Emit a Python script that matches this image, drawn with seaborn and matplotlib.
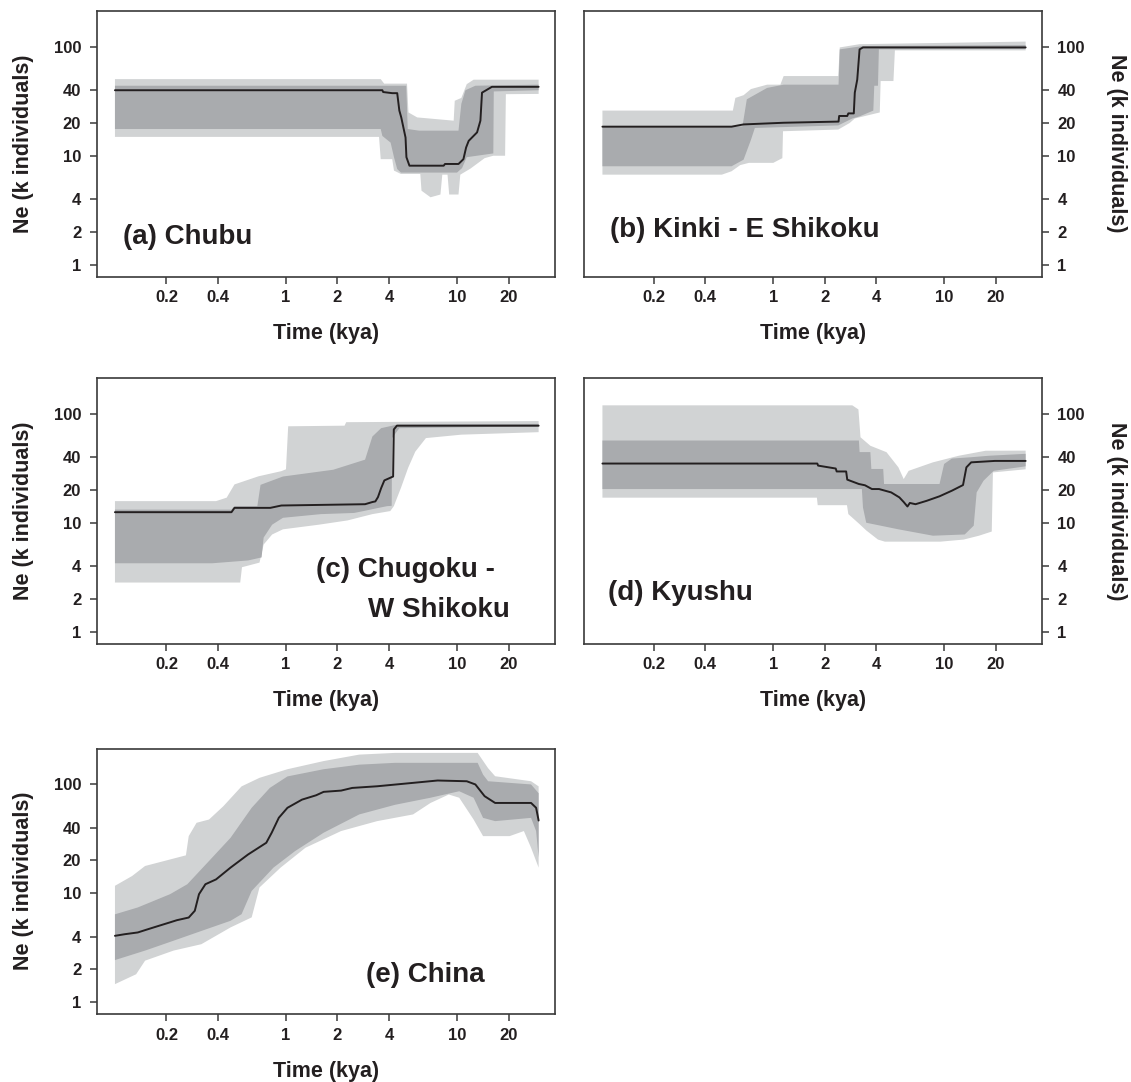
import matplotlib
matplotlib.use("Agg")
import pandas as pd
import matplotlib.pyplot as plt
from matplotlib.ticker import FixedLocator, FixedFormatter, NullLocator
import seaborn as sns

# Bayesian skyline plots: (time kya, Ne in thousands)
# each panel: median line, 50% band (dark), 95% band (light)

A_MED = [(0.1, 40), (3.66, 40), (3.7, 38.5), (4.18, 37.6), (4.47, 37.6), (4.6, 26), (4.72, 22.5),
         (5.0, 14.7), (5.06, 9.7), (5.27, 8.1), (8.36, 8.1), (8.5, 8.4), (10.2, 8.4), (10.9, 9.3),
         (11.3, 11.9), (11.7, 13.7), (13.1, 16.4), (13.7, 21), (14.0, 38), (16.0, 43), (30, 43)]
A_HI95 = [(0.1, 50.6), (3.58, 50.6), (3.75, 46), (5.1, 46), (5.2, 25), (5.85, 22.5), (9.56, 21),
          (9.7, 32), (10.6, 34), (11.4, 45.5), (12.5, 50), (30, 50)]
A_HI50 = [(0.1, 44), (5.05, 44), (5.15, 17.6), (6.0, 17), (10.2, 17), (10.6, 30), (11.2, 40),
          (12.8, 44), (30, 45)]
A_LO50 = [(0.1, 17.6), (3.58, 17.6), (3.66, 15.2), (4.09, 13.2), (4.28, 9.7), (4.47, 7.55),
          (4.7, 7.0), (10.0, 7.0), (10.7, 7.7), (11.4, 9.7), (16.3, 10.5), (16.4, 39), (30, 40)]
A_LO95 = [(0.1, 14.9), (3.5, 14.9), (3.58, 9.3), (4.18, 9.3), (4.28, 7.3), (4.7, 6.8), (6.1, 6.8),
          (6.2, 4.77), (7.0, 4.15), (8.0, 4.4), (8.2, 6.7), (8.8, 6.7), (9.0, 4.4), (10.2, 4.4),
          (10.45, 6.7), (11.96, 7.6), (14.5, 9.5), (16.3, 10), (19.1, 10), (19.3, 36.8), (30, 37)]

B_MED = [(0.1, 18.5), (0.57, 18.5), (0.67, 19.4), (1.15, 20.1), (2.41, 20.6), (2.43, 23.2),
         (2.71, 23.2), (2.75, 24.5), (2.96, 24.5), (3.0, 38), (3.1, 50), (3.2, 95), (3.35, 99), (30, 99)]
B_HI95 = [(0.1, 26), (0.58, 26), (0.6, 34), (0.67, 36), (0.74, 41), (0.92, 45), (1.1, 45), (1.15, 54),
          (2.4, 54), (2.45, 99), (3.2, 106), (30, 112)]
B_HI50 = [(0.1, 18.6), (0.66, 18.6), (0.7, 33), (0.92, 42), (1.15, 45), (2.41, 45), (2.45, 95),
          (3.35, 102), (30, 104)]
B_LO50 = [(0.1, 8), (0.57, 8), (0.67, 9.2), (0.74, 14), (0.78, 18), (2.4, 19), (2.9, 22), (3.2, 23),
          (3.85, 26), (3.9, 44), (4.1, 44), (4.15, 95), (30, 96)]
B_LO95 = [(0.1, 6.7), (0.5, 6.7), (0.57, 7.2), (0.64, 8.2), (0.72, 8.6), (1.0, 8.6), (1.1, 9.3),
          (1.13, 9.5), (1.14, 16.8), (2.4, 17.4), (2.8, 20), (3.0, 22), (4.2, 25), (4.25, 48.6),
          (5.05, 48.6), (5.15, 93), (30, 93)]

C_MED = [(0.1, 12.5), (0.48, 12.5), (0.5, 13.7), (0.81, 13.7), (0.94, 14.4), (2.9, 14.8), (3.2, 15.5),
         (3.33, 15.7), (3.45, 17.2), (3.6, 20.8), (3.76, 24.5), (4.23, 26.6), (4.27, 72), (4.45, 78),
         (30, 78)]
C_HI95 = [(0.1, 15.8), (0.39, 15.8), (0.45, 17), (0.5, 22.5), (0.69, 26.7), (0.94, 29.8), (1.0, 31),
          (1.03, 77), (2.2, 78), (2.25, 84), (30, 86)]
C_HI50 = [(0.1, 13.2), (0.48, 13.2), (0.5, 14.2), (0.68, 14.2), (0.71, 22.3), (0.96, 26.6),
          (1.89, 30.7), (2.9, 38), (3.2, 62), (3.6, 74), (4.5, 80), (30, 81)]
C_LO50 = [(0.1, 4.24), (0.37, 4.24), (0.6, 4.5), (0.72, 4.8), (0.74, 7.3), (0.83, 9.6), (0.96, 11.1),
          (1.6, 12), (2.5, 12.3), (2.84, 12.8), (3.4, 13.6), (3.9, 14.2), (4.15, 14.3), (4.17, 60),
          (4.6, 74), (30, 77)]
C_LO95 = [(0.1, 2.82), (0.54, 2.82), (0.553, 3.9), (0.70, 4.3), (0.74, 6.3), (0.83, 7.8), (0.96, 8.7),
          (1.56, 9.6), (2.29, 10.5), (3.2, 12), (4.07, 12.8), (4.27, 14.2), (4.7, 20.9), (5.18, 32),
          (5.7, 45), (6.58, 60), (10.6, 64.5), (30, 68)]

D_MED = [(0.1, 35), (1.81, 35), (1.83, 33.5), (2.32, 31.5), (2.35, 29.6), (2.67, 29.6), (2.71, 24.9),
         (3.17, 22.7), (3.44, 22.1), (3.78, 20.4), (4.16, 20.4), (4.9, 19), (5.47, 17.1), (5.8, 15.5),
         (6.1, 14.1), (6.3, 15.2), (6.8, 14.8), (7.9, 15.9), (9.4, 17.5), (11.1, 19.7), (12.9, 22.2),
         (13.5, 32.3), (14.4, 35.9), (19.8, 37), (30, 37)]
D_HI95 = [(0.1, 120), (2.9, 120), (3.15, 110), (3.24, 61), (3.7, 51), (4.6, 44.5), (5.4, 32.3),
          (5.8, 25.2), (6.2, 30), (8.6, 35.9), (12.2, 41.3), (17.5, 45.9), (30, 46)]
D_HI50 = [(0.1, 57), (3.17, 57), (3.2, 44.6), (3.7, 44.6), (3.75, 31.2), (4.4, 31.2), (4.45, 22.7),
          (9.4, 22.7), (10.0, 34.7), (11.1, 38.9), (14.4, 40), (18.4, 41.3), (30, 43)]
D_LO50 = [(0.1, 20.4), (3.3, 20.4), (3.35, 13.8), (3.5, 10), (5.4, 8.7), (8.6, 7.6), (13.2, 7.8),
          (14.9, 9.4), (15.5, 19), (17, 24.3), (19.5, 30), (30, 33)]
D_LO95 = [(0.1, 17), (1.8, 17), (1.82, 14.5), (2.7, 14.5), (2.75, 12), (3.2, 9.7), (3.5, 8.5),
          (4.1, 7), (4.5, 6.7), (9.5, 6.7), (13, 7), (16, 7.6), (19, 8.3), (19.3, 29), (30, 31)]

E_MED = [(0.1, 4.06), (0.114, 4.2), (0.136, 4.36), (0.15, 4.58), (0.172, 4.9), (0.21, 5.4),
         (0.23, 5.65), (0.27, 5.98), (0.293, 6.9), (0.31, 9.8), (0.338, 12.1), (0.39, 13.4),
         (0.474, 17.2), (0.60, 22.7), (0.767, 29.1), (0.825, 36), (0.908, 49.4), (1.02, 61),
         (1.24, 72.5), (1.5, 79.5), (1.66, 85.5), (2.1, 87.8), (2.44, 92.9), (3.41, 96.2),
         (5.53, 103.4), (7.7, 108.7), (11.4, 107), (12.8, 100), (14.5, 78), (16.7, 67.6),
         (27.1, 67.6), (29, 61), (30, 46.6)]
E_HI95 = [(0.1, 11.7), (0.126, 14.4), (0.15, 17.8), (0.26, 22.3), (0.27, 33.5), (0.3, 44.4),
          (0.355, 47.6), (0.43, 63), (0.55, 96), (0.70, 115), (1.02, 138), (1.66, 164), (2.68, 188),
          (4.34, 195), (13.2, 195), (15.2, 141), (16.7, 119), (27.1, 107), (30, 96)]
E_HI50 = [(0.1, 6.4), (0.136, 7.4), (0.21, 9.8), (0.265, 12.1), (0.355, 19.8), (0.474, 32.3),
          (0.63, 61), (0.805, 93), (1.02, 118.5), (1.66, 138), (2.68, 152), (4.34, 158), (13.2, 158),
          (14.2, 123), (15.2, 107), (27.1, 100), (30, 83)]
E_LO50 = [(0.1, 2.43), (0.15, 2.97), (0.22, 3.66), (0.32, 4.5), (0.474, 5.58), (0.55, 6.42),
          (0.63, 10.5), (0.845, 17.2), (1.13, 24.4), (1.66, 36), (2.68, 53), (4.34, 65), (7.0, 75.5),
          (10.3, 86.6), (12.5, 75.5), (14.2, 49.3), (16.7, 46), (27.1, 49.3), (29, 37.3), (30, 21.3)]
E_LO95 = [(0.1, 1.46), (0.133, 1.8), (0.15, 2.4), (0.22, 2.97), (0.32, 3.4), (0.474, 4.85),
          (0.63, 6.0), (0.70, 11.3), (0.93, 17.2), (1.3, 26.2), (2.1, 37.3), (3.41, 46), (5.53, 53),
          (7.0, 67.6), (8.95, 80.8), (10.3, 75.5), (12.5, 47.6), (14.2, 33.5), (20.3, 33.5),
          (24.6, 37.3), (27.1, 26.2), (30, 17.2)]

X_TICKS = [0.2, 0.4, 1, 2, 4, 10, 20]
X_LABELS = ["0.2", "0.4", "1", "2", "4", "10", "20"]
Y_TICKS = [1, 2, 4, 10, 20, 40, 100]
Y_LABELS = ["1", "2", "4", "10", "20", "40", "100"]

LIGHT = "#d1d3d4"
DARK = "#a9abae"
LINE = "#231f20"
FRAME = "#3a3a3a"

sns.set_theme(style="white")
plt.rcParams["font.family"] = ["Liberation Sans", "DejaVu Sans"]
plt.rcParams["font.weight"] = "bold"
plt.rcParams["axes.labelweight"] = "bold"

fig = plt.figure(figsize=(11.31, 10.82), dpi=100)

W, H = 1131, 1082
col_left = [96.5 / W, 584 / W]
col_w = [458.5 / W, 458 / W]
row_bottom = [1 - 276.5 / H, 1 - 643.5 / H, 1 - 1014 / H]
row_h = 265.5 / H


def band(ax, upper, lower, color):
    xs = [p[0] for p in upper] + [p[0] for p in reversed(lower)]
    ys = [p[1] for p in upper] + [p[1] for p in reversed(lower)]
    ax.fill(xs, ys, color=color, lw=0, zorder=1)


def panel(row, col, med, hi95, lo95, hi50, lo50, labels):
    ax = fig.add_axes([col_left[col], row_bottom[row], col_w[col], row_h])
    ax.set_xscale("log")
    ax.set_yscale("log")
    band(ax, hi95, lo95, LIGHT)
    band(ax, hi50, lo50, DARK)
    df = pd.DataFrame(med, columns=["kya", "ne"])
    sns.lineplot(data=df, x="kya", y="ne", sort=False, estimator=None,
                 color=LINE, lw=1.4, ax=ax, zorder=3)
    ax.set_xlim(0.078, 37.4)
    ax.set_ylim(0.776, 214)

    ax.xaxis.set_major_locator(FixedLocator(X_TICKS))
    ax.xaxis.set_major_formatter(FixedFormatter(X_LABELS))
    ax.yaxis.set_major_locator(FixedLocator(Y_TICKS))
    ax.yaxis.set_major_formatter(FixedFormatter(Y_LABELS))
    ax.xaxis.set_minor_locator(NullLocator())
    ax.yaxis.set_minor_locator(NullLocator())
    for s in ax.spines.values():
        s.set_visible(True)
        s.set_color(FRAME)
        s.set_linewidth(1.2)
    ax.tick_params(axis="both", length=5, width=1.1, color=FRAME, labelsize=12,
                   labelcolor="#231f20", direction="out")
    ax.tick_params(axis="x", bottom=True, pad=5)
    ax.tick_params(axis="y", pad=6)
    if col == 1:
        ax.tick_params(axis="y", left=False, right=True, labelleft=False, labelright=True)
    else:
        ax.tick_params(axis="y", left=True)
    ax.set_xlabel("Time (kya)", fontsize=15.5, fontweight="bold", color="#231f20", labelpad=13)
    ax.set_ylabel("")

    yc = row_bottom[row] + row_h / 2
    if col == 0:
        fig.text(24 / W, yc, "Ne (k individuals)", rotation=90, ha="center", va="center",
                 fontsize=15.5, fontweight="bold", color="#231f20")
    else:
        fig.text(1116 / W, yc, "Ne (k individuals)", rotation=270, ha="center", va="center",
                 fontsize=15.5, fontweight="bold", color="#231f20")

    for (tx, ty, s) in labels:
        ax.text(tx, ty, s, transform=ax.transAxes, ha="left", va="center",
                fontsize=20, fontweight="bold", color="#231f20", zorder=4)
    return ax


panel(0, 0, A_MED, A_HI95, A_LO95, A_HI50, A_LO50, [(0.058, 0.147, "(a) Chubu")])
panel(0, 1, B_MED, B_HI95, B_LO95, B_HI50, B_LO50, [(0.056, 0.176, "(b) Kinki - E Shikoku")])
panel(1, 0, C_MED, C_HI95, C_LO95, C_HI50, C_LO50,
      [(0.479, 0.277, "(c) Chugoku -"), (0.592, 0.126, "W Shikoku")])
panel(1, 1, D_MED, D_HI95, D_LO95, D_HI50, D_LO50, [(0.052, 0.192, "(d) Kyushu")])
panel(2, 0, E_MED, E_HI95, E_LO95, E_HI50, E_LO50, [(0.587, 0.147, "(e) China")])

fig.savefig("out.png", dpi=100)
